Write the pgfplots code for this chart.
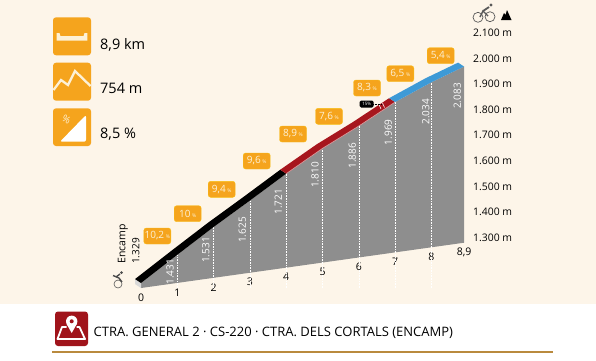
\documentclass[border=0pt]{standalone}
\usepackage{pgfplots}
\pgfplotsset{compat=1.18}
\usepackage{fontspec}
\setmainfont{Open Sans}
\definecolor{bgc}{HTML}{FDF5E9}
\definecolor{org}{HTML}{F5A41D}
\definecolor{cream}{HTML}{FDF1D6}
\definecolor{greyc}{HTML}{8E8E8E}
\definecolor{redc}{HTML}{A7161D}
\definecolor{bluec}{HTML}{3E9AD6}
\definecolor{darkred}{HTML}{A0141B}
\definecolor{rulec}{HTML}{B98A3E}
\newcommand{\fs}[1]{\fontsize{#1}{#1}\selectfont}
\newcommand{\grad}[3]{\node[fill=org,draw=org!70!yellow,line width=.4pt,rounded corners=2.5pt,minimum width=27pt,minimum height=16pt,inner sep=0pt,text=cream] at (#1,#2) {\fs{10}#3\,{\fs{5}\%}};}
\newcommand{\alt}[3]{\node[rotate=90,text=white,inner sep=0pt] at (#1,#2) {\fs{10}#3};}
\begin{document}
\begin{tikzpicture}
\begin{scope}[x=1pt,y=-1pt]
\useasboundingbox (0,0) rectangle (596,360);
\fill[white] (0,0) rectangle (596,360);
\fill[bgc] (0,0) rectangle (596,303.5);
\end{scope}
% main oblique axis
\begin{axis}[
  at={(141pt,-288pt)}, anchor=south west,
  x={(36.3pt,5.09pt)}, y={(0pt,0.227pt)},
  xmin=0, xmax=8.9, ymin=1307, ymax=2083,
  clip=false,
  axis x line=bottom, axis y line=none,
  axis line style={draw=none},
  major tick length=0pt,
  xtick={0,1,2,3,4,5,6,7,8,8.9},
  xticklabels={0,1,2,3,4,5,6,7,8,{8,9}},
  xticklabel style={font=\fs{10.5},text=black,inner sep=0pt,anchor=center,yshift=-9.5pt},
]
\addplot[fill=greyc,draw=none] coordinates {(0,1307)(0,1329)(1,1431)(2,1531)(3,1625)(4,1721)(5,1810)(6,1886)(7,1969)(8,2034)(8.9,2083)(8.9,1307)} -- cycle;
\addplot[fill=black!15,draw=none] coordinates {(-0.165,1350)(0,1329)(0,1307)(-0.165,1328)} -- cycle;
\addplot[ycomb,white,line width=.6pt,densely dotted,mark=none] coordinates {(1,1431)(2,1531)(3,1625)(4,1721)(5,1810)(6,1886)(7,1969)(8,2034)};
\addplot[fill=black,draw=none] coordinates {(0,1329)(1,1431)(2,1531)(3,1625)(4,1721)(3.835,1742)(2.835,1646)(1.835,1552)(0.835,1452)(-0.165,1350)} -- cycle;
\addplot[fill=redc,draw=none] coordinates {(4,1721)(5,1810)(6,1886)(7,1969)(6.835,1990)(5.835,1907)(4.835,1831)(3.835,1742)} -- cycle;
\addplot[fill=bluec,draw=none] coordinates {(7,1969)(8,2034)(8.9,2083)(8.735,2104)(7.835,2055)(6.835,1990)} -- cycle;
\addplot[draw=redc!45!white,line width=.7pt] coordinates {(4,1721)(5,1810)(6,1886)(7,1969)};
\end{axis}
% altitude scale
\begin{axis}[
  at={(473pt,-237.5pt)}, anchor=south west,
  scale only axis, width=1pt, height=204.8pt,
  xmin=0, xmax=1, ymin=1300, ymax=2100,
  hide x axis,
  axis y line=right, axis line style={draw=none},
  major tick length=0pt,
  ytick={1300,1400,1500,1600,1700,1800,1900,2000,2100},
  scaled y ticks=false,
  yticklabel={\pgfmathprintnumber{\tick}~m},
  yticklabel style={/pgf/number format/1000 sep={.},/pgf/number format/assume math mode=true,font=\fs{10.4},text=black,anchor=west,inner sep=0pt,xshift=-1pt},
]
\addplot[draw=none] coordinates {(0,1300)(1,2100)};
\end{axis}
\begin{scope}[x=1pt,y=-1pt]
% gradients
\grad{157.3}{236}{10,2}
\grad{187.7}{213.7}{10}
\grad{221.7}{189.3}{9,4}
\grad{256.7}{161}{9,6}
\grad{293}{134}{8,9}
\grad{329}{116.3}{7,6}
\grad{367}{88}{8,3}
\grad{400.3}{73.7}{6,5}
\grad{440.7}{55.7}{5,4}
% altitude values
\alt{170}{271.7}{1.431}
\alt{205.7}{250}{1.531}
\alt{242.3}{230}{1.625}
\alt{278.3}{201.7}{1.721}
\alt{315}{175}{1.810}
\alt{352.3}{155.7}{1.886}
\alt{388.3}{132.3}{1.969}
\alt{425.7}{111.7}{2.034}
\alt{457.3}{96}{2.083}
\node[rotate=90,inner sep=0pt] at (123,244) {\fs{10.5}Encamp};
\node[rotate=90,inner sep=0pt] at (135.7,251) {\fs{10}1.329};
% 15% marker
\draw[white,line width=.6pt] (379,104.5)--(381,109) (382.5,103)--(384.5,107.5);
\draw[black,line width=.5pt,densely dotted] (373,104)--(381,104);
\node[fill=black,text=white,rounded corners=1.5pt,minimum width=14pt,minimum height=7pt,inner sep=0pt] at (366.7,104) {\fs{4.5}15\%};
% stats icons
\fill[org,rounded corners=3pt] (53,17.3) rectangle (91,55.3);
\fill[cream] (56.7,33)--(59.5,33)--(60.5,36)--(83.5,36)--(84.5,33)--(87.3,33)--(87.3,40.6)--(56.7,40.6)--cycle;
\fill[org,rounded corners=3pt] (53,62.7) rectangle (91,100.7);
\draw[cream,line width=2.3pt,line join=miter] (53.5,90)--(61,80)--(68,85)--(75,71)--(90.5,86);
\fill[org,rounded corners=3pt] (53,108.3) rectangle (91,146);
\fill[white,rounded corners=2pt] (60,141.7)--(86,115)--(86,141.7)--cycle;
\node[text=cream,inner sep=0pt,rotate=-30] at (66.5,119.5) {\fs{10}\%};
\node[anchor=west,inner sep=0pt] at (100,44.5) {\fs{14.5}8,9 km};
\node[anchor=west,inner sep=0pt] at (100,88.5) {\fs{14.5}754 m};
\node[anchor=west,inner sep=0pt] at (100,134) {\fs{14.5}8,5 \%};
% top-right icons
\fill[black] (501,20)--(504,13)--(505.5,15)--(507,10)--(511.5,20)--cycle;
\draw[black!65,line width=.7pt] (478,17.3) circle (5) (490,16.7) circle (5);
\draw[black!65,line width=1.4pt] (480,17)--(483,11)--(488,16);
\draw[black!65,line width=1.8pt] (483,11)--(489,7);
\fill[black!65] (491,5) circle (1.6);
% bottom-left cyclist
\draw[black!65,line width=.6pt] (118,284) circle (4);
\draw[black!70,line width=1.4pt] (113,275.5)--(119,278)--(122,282);
\draw[black!70,line width=1.4pt] (116,277)--(120,274);
\fill[black!70] (121.5,272.5) circle (1.5);
% footer
\fill[darkred,rounded corners=3pt] (55,311.5) rectangle (88,346);
\draw[white,line width=1.8pt,line join=round] (66.5,327)--(62,327)--(57.5,339)--(85,339)--(79.5,327)--(76.5,327);
\fill[white] (66.6,324)--(71.7,333)--(76.8,324)--cycle;
\fill[white] (71.7,321.3) circle (5.7);
\fill[darkred] (71.7,321.3) circle (2);
\node[anchor=west,inner sep=0pt] at (93.5,333) {\fs{13}CTRA. GENERAL 2 · CS-220 · CTRA. DELS CORTALS (ENCAMP)};
\draw[rulec,line width=1.6pt] (52,352)--(553,352);
\end{scope}
\end{tikzpicture}
\end{document}
